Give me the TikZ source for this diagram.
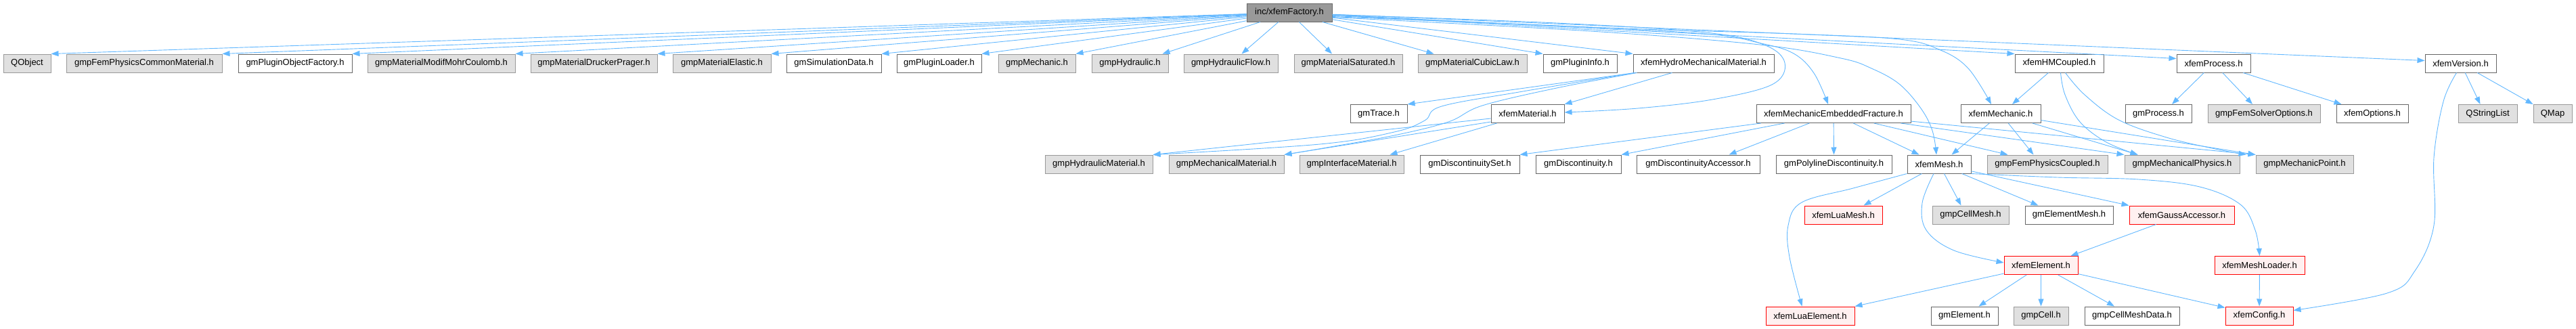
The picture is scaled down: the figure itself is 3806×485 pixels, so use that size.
\documentclass[tikz,border=0pt]{standalone}
\usepackage{fontspec}
\setmainfont{Liberation Sans}
\usetikzlibrary{arrows.meta}
\definecolor{edgec}{HTML}{63B8FF}
\definecolor{grayfill}{HTML}{E0E0E0}
\definecolor{grayline}{HTML}{999999}
\definecolor{whiteline}{HTML}{666666}
\definecolor{redfill}{HTML}{FFF0F0}
\definecolor{rootfill}{HTML}{999999}
\tikzset{
  base/.style={rectangle, minimum height=27pt, inner sep=0pt, line width=1pt, font=\fontsize{13pt}{15pt}\selectfont},
  wbox/.style={base, draw=whiteline, fill=white},
  gbox/.style={base, draw=grayline, fill=grayfill},
  rbox/.style={base, draw=red, fill=redfill},
  rootbox/.style={base, draw=whiteline, fill=rootfill},
  edge/.style={draw=edgec, line width=0.9pt, -{Triangle[length=11pt,width=8pt]}},
}
\begin{document}
\begin{tikzpicture}[x=1pt,y=-1pt]
\useasboundingbox (0,0) rectangle (3806,485);
% root
\node[rootbox, minimum width=126pt] (root) at (1905,18.5) {inc/xfemFactory.h};
% row 1
\node[gbox, minimum width=70pt]  (qobj) at (40,93.5) {QObject};
\node[gbox, minimum width=230pt] (fpcm) at (213,93.5) {gmpFemPhysicsCommonMaterial.h};
\node[wbox, minimum width=168pt] (pof) at (436,93.5) {gmPluginObjectFactory.h};
\node[gbox, minimum width=218pt] (mmc) at (652,93.5) {gmpMaterialModifMohrCoulomb.h};
\node[gbox, minimum width=187pt] (mdp) at (877.5,93.5) {gmpMaterialDruckerPrager.h};
\node[gbox, minimum width=145pt] (mel) at (1066.5,93.5) {gmpMaterialElastic.h};
\node[wbox, minimum width=140pt] (simd) at (1232,93.5) {gmSimulationData.h};
\node[wbox, minimum width=125pt] (ploader) at (1387.5,93.5) {gmPluginLoader.h};
\node[gbox, minimum width=114pt] (gmech) at (1532,93.5) {gmpMechanic.h};
\node[gbox, minimum width=113pt] (ghyd) at (1669.5,93.5) {gmpHydraulic.h};
\node[gbox, minimum width=139pt] (hflow) at (1818.5,93.5) {gmpHydraulicFlow.h};
\node[gbox, minimum width=160pt] (msat) at (1992,93.5) {gmpMaterialSaturated.h};
\node[gbox, minimum width=161pt] (mcl) at (2175.5,93.5) {gmpMaterialCubicLaw.h};
\node[wbox, minimum width=109pt] (pinfo) at (2334.5,93.5) {gmPluginInfo.h};
\node[wbox, minimum width=208pt] (hmm) at (2517,93.5) {xfemHydroMechanicalMaterial.h};
\node[wbox, minimum width=131pt] (hmc) at (3042.5,93.5) {xfemHMCoupled.h};
\node[wbox, minimum width=109pt] (xproc) at (3270.5,93.5) {xfemProcess.h};
\node[wbox, minimum width=105pt] (xver) at (3635.5,93.5) {xfemVersion.h};
% row 2
\node[wbox, minimum width=84pt]  (trace) at (2037,168) {gmTrace.h};
\node[wbox, minimum width=108pt] (xmat) at (2257,168) {xfemMaterial.h};
\node[wbox, minimum width=228pt] (xmef) at (2709,168) {xfemMechanicEmbeddedFracture.h};
\node[wbox, minimum width=118pt] (xmech) at (2956,168) {xfemMechanic.h};
\node[wbox, minimum width=98pt]  (gproc) at (3189,168) {gmProcess.h};
\node[gbox, minimum width=166pt] (solv) at (3345,168) {gmpFemSolverOptions.h};
\node[wbox, minimum width=106pt] (xopt) at (3505,168) {xfemOptions.h};
\node[gbox, minimum width=87pt]  (qsl) at (3675.5,168) {QStringList};
\node[gbox, minimum width=57pt]  (qmap) at (3771.5,168) {QMap};
% row 3
\node[gbox, minimum width=159pt] (hydmat) at (1623.5,242.5) {gmpHydraulicMaterial.h};
\node[gbox, minimum width=170pt] (mechmat) at (1812,242.5) {gmpMechanicalMaterial.h};
\node[gbox, minimum width=154pt] (intmat) at (1997,242.5) {gmpInterfaceMaterial.h};
\node[wbox, minimum width=147pt] (dset) at (2171.5,242.5) {gmDiscontinuitySet.h};
\node[wbox, minimum width=126pt] (disc) at (2332,242.5) {gmDiscontinuity.h};
\node[wbox, minimum width=182pt] (dacc) at (2509,242.5) {gmDiscontinuityAccessor.h};
\node[wbox, minimum width=171pt] (poly) at (2709.5,242.5) {gmPolylineDiscontinuity.h};
\node[wbox, minimum width=94pt]  (xmesh) at (2865,242.5) {xfemMesh.h};
\node[gbox, minimum width=178pt] (fpc) at (3025,242.5) {gmpFemPhysicsCoupled.h};
\node[gbox, minimum width=170pt] (mphys) at (3224,242.5) {gmpMechanicalPhysics.h};
\node[gbox, minimum width=144pt] (mpoint) at (3405,242.5) {gmpMechanicPoint.h};
% row 4
\node[rbox, minimum width=115pt] (luamesh) at (2723.5,317.5) {xfemLuaMesh.h};
\node[gbox, minimum width=113pt] (cmesh) at (2911.5,317.5) {gmpCellMesh.h};
\node[wbox, minimum width=130pt] (elmesh) at (3057,317.5) {gmElementMesh.h};
\node[rbox, minimum width=155pt] (gauss) at (3223.5,317.5) {xfemGaussAccessor.h};
% row 5
\node[rbox, minimum width=109pt] (xelem) at (3015.5,392) {xfemElement.h};
\node[rbox, minimum width=133pt] (loader) at (3338.5,392) {xfemMeshLoader.h};
% row 6
\node[rbox, minimum width=131pt] (luaelem) at (2674.5,466.5) {xfemLuaElement.h};
\node[wbox, minimum width=99pt]  (gelem) at (2902.5,466.5) {gmElement.h};
\node[gbox, minimum width=81pt]  (gcell) at (3015.5,466.5) {gmpCell.h};
\node[wbox, minimum width=140pt] (cmd) at (3150,466.5) {gmpCellMeshData.h};
\node[rbox, minimum width=100pt] (xconf) at (3338,466.5) {xfemConfig.h};

% root -> row 1
\draw[edge] (root) -- (qobj.north east);
\draw[edge] (root) -- (fpcm.north east);
\draw[edge] (root) -- (pof.north east);
\draw[edge] (root) -- (mmc.north east);
\draw[edge] (root) -- (mdp.north east);
\draw[edge] (root) -- (mel.north east);
\draw[edge] (root) -- (simd.north east);
\draw[edge] (root) -- (ploader.north east);
\draw[edge] (root) -- (gmech.north east);
\draw[edge] (root) -- ([xshift=-9pt]ghyd.north east);
\draw[edge] (root) -- ([xshift=16pt]hflow.north);
\draw[edge] (root) -- ([xshift=-24pt]msat.north);
\draw[edge] (root) -- ([xshift=24pt]mcl.north west);
\draw[edge] (root) -- (pinfo.north west);
\draw[edge] (root) -- (hmm.north west);
\draw[edge] (root) -- (hmc.north west);
\draw[edge] (root) -- ([yshift=7pt]xproc.west);
\draw[edge] (root) -- ([yshift=4pt]xver.west);
% root -> curved
\draw[edge] plot[smooth, tension=0.6] coordinates {([yshift=-3pt]root.east) (2300,34) (2520,48) (2606,66) (2637,93) (2618,125) (2530,147) (2420,160) ([yshift=2pt]xmat.east)};
\draw[edge] plot[smooth, tension=0.6] coordinates {([yshift=-5pt]root.east) (2300,38) (2520,50) (2602,64) (2650,79) (2680,108) ([xshift=-8pt]xmef.north)};
\draw[edge] plot[smooth, tension=0.6] coordinates {([yshift=-7pt]root.east) (2350,46) (2600,66) (2720,86) (2765,101) (2806,124) (2838,160) (2855,193) ([xshift=-4pt]xmesh.north)};
\draw[edge] plot[smooth, tension=0.6] coordinates {([yshift=-6pt]root.east) (2400,42) (2650,50) (2806,58) (2867,74) (2908,101) ([xshift=-14pt]xmech.north)};
% xfemHydroMechanicalMaterial
\draw[edge] ([xshift=3pt]hmm.south west) -- (trace.north east);
\draw[edge] ([xshift=58pt]hmm.south west) -- (xmat.north east);
\draw[edge] plot[smooth, tension=0.6] coordinates {([xshift=3pt]hmm.south west) (2250,135) (2130,157) (2105,178) (2060,195) (1950,213) (hydmat.north east)};
\draw[edge] plot[smooth, tension=0.6] coordinates {([xshift=6pt]hmm.south west) (2300,130) (2190,156) (2140,180) (2060,200) (1960,218) (mechmat.north east)};
% xfemMaterial
\draw[edge] ([yshift=-7pt]xmat.west) -- (hydmat.north east);
\draw[edge] ([yshift=-12pt]xmat.west) -- (mechmat.north east);
\draw[edge] ([xshift=9pt]xmat.south west) -- ([xshift=-21pt]intmat.north east);
% xfemMechanicEmbeddedFracture
\draw[edge] (xmef) -- (dset.north east);
\draw[edge] (xmef) -- (disc.north east);
\draw[edge] (xmef) -- ([xshift=-46pt]dacc.north east);
\draw[edge] (xmef) -- (poly.north);
\draw[edge] (xmef) -- ([xshift=18pt]xmesh.north west);
\draw[edge] (xmef) -- ([xshift=31pt]fpc.north west);
\draw[edge] (xmef) -- (mphys.north west);
\draw[edge] (xmef) -- (mpoint.north west);
% xfemMechanic
\draw[edge] (xmech) -- ([xshift=-29pt]xmesh.north east);
\draw[edge] (xmech) -- ([xshift=69pt]fpc.north west);
\draw[edge] (xmech) -- ([xshift=20pt]mphys.north west);
\draw[edge] (xmech) -- (mpoint.north west);
% xfemHMCoupled
\draw[edge] (hmc) -- ([xshift=17pt]xmech.north);
\draw[edge] plot[smooth, tension=0.6] coordinates {([xshift=2pt]hmc.south) (3051,140) (3073,180) (3112,210) ([xshift=20pt]mphys.north west)};
\draw[edge] plot[smooth, tension=0.6] coordinates {([xshift=9pt]hmc.south) (3080,140) (3130,177) (3201,203) (3273,220) ([xshift=-14pt]mpoint.north west)};
% xfemProcess
\draw[edge] (xproc) -- ([xshift=20pt]gproc.north);
\draw[edge] (xproc) -- ([xshift=-17pt]solv.north);
\draw[edge] (xproc) -- ([xshift=8pt]xopt.north west);
% xfemVersion
\draw[edge] (xver) -- ([xshift=-11pt]qsl.north);
\draw[edge] (xver) -- (qmap.north west);
\draw[edge] plot[smooth, tension=0.6] coordinates {([xshift=-6pt]xver.south) (3610,150) (3596,233) (3596,333) (3568,400) (3527,433) ([yshift=8pt]xconf.east)};
% xfemMesh
\draw[edge] plot[smooth, tension=0.6] coordinates {(xmesh.south west) (2738,278) (2662,299) (2642,333) (2644,380) ([xshift=-12pt]luaelem.north)};
\draw[edge] (xmesh) -- ([xshift=-28pt]luamesh.north east);
\draw[edge] plot[smooth, tension=0.6] coordinates {([xshift=-8pt]xmesh.south) (2840,300) (2846,340) (2887,370) ([yshift=4pt]xelem.west)};
\draw[edge] (xmesh) -- ([xshift=-14pt]cmesh.north);
\draw[edge] (xmesh) -- ([xshift=20pt]elmesh.north west);
\draw[edge] (xmesh) -- (gauss.north west);
\draw[edge] plot[smooth, tension=0.6] coordinates {(xmesh.south east) (3040,262) (3160,265) (3250,276) (3310,302) (3332,340) (loader.north)};
% xfemGaussAccessor
\draw[edge] (gauss) -- ([xshift=-11pt]xelem.north east);
% xfemElement
\draw[edge] (xelem) -- (luaelem.north east);
\draw[edge] (xelem) -- ([xshift=21pt]gelem.north);
\draw[edge] (xelem) -- (gcell.north);
\draw[edge] (xelem) -- ([xshift=-26pt]cmd.north);
\draw[edge] (xelem) -- ([yshift=-2pt]xconf.north west);
% xfemMeshLoader
\draw[edge] (loader) -- (xconf);
\end{tikzpicture}
\end{document}
